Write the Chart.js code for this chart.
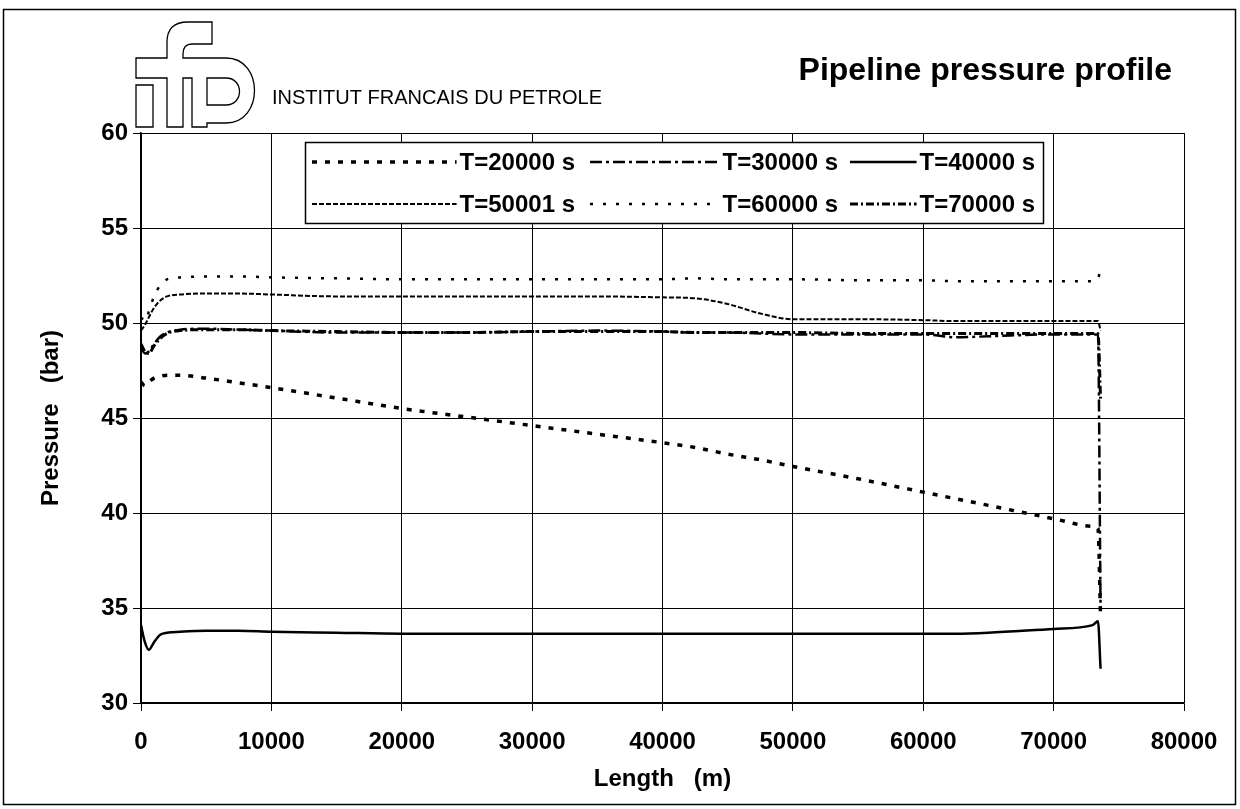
<!DOCTYPE html>
<html>
<head>
<meta charset="utf-8">
<script src="https://cdn.jsdelivr.net/npm/chart.js@4.4.0/dist/chart.umd.min.js"></script>
<style>
  html, body { margin: 0; padding: 0; background: #fff; }
</style>
</head>
<body>
<canvas id="grafico_pressao" width="1240" height="809"></canvas>
<script>
// distance along the pipeline (m)
var comprimentos = [0, 300, 600, 1000, 1500, 2000, 3000, 5000, 7500, 10000, 15000, 20000, 25000, 30000,
  35000, 40000, 42500, 45000, 47500, 50000, 55000, 60000, 62500, 65000, 70000, 73000, 73400, 73600];

// pressure (bar) for each time step
var p20000 = [46.9, 46.7, 46.9, 47.1, 47.2, 47.25, 47.25, 47.1, 46.85, 46.6, 46.05, 45.5, 45.05, 44.6,
  44.15, 43.7, 43.45, 43.1, 42.8, 42.45, 41.8, 41.1, 40.75, 40.4, 39.7, 39.3, 39.2, 34.5];
var p30000 = [48.7, 48.4, 48.5, 48.9, 49.3, 49.5, 49.65, 49.7, 49.65, 49.6, 49.5, 49.5, 49.5, 49.55,
  49.6, 49.55, 49.5, 49.5, 49.45, 49.4, 49.4, 49.4, 49.25, 49.3, 49.4, 49.4, 49.4, 35.0];
var p40000 = [34.1, 33.2, 32.8, 33.2, 33.6, 33.7, 33.75, 33.8, 33.8, 33.75, 33.7, 33.65, 33.65, 33.65,
  33.65, 33.65, 33.65, 33.65, 33.65, 33.65, 33.65, 33.65, 33.65, 33.7, 33.9, 34.1, 34.3, 31.8];
var p50001 = [49.6, 49.9, 50.3, 50.8, 51.2, 51.4, 51.5, 51.55, 51.55, 51.5, 51.4, 51.4, 51.4, 51.4,
  51.4, 51.35, 51.3, 51.0, 50.5, 50.2, 50.2, 50.15, 50.1, 50.1, 50.1, 50.1, 50.1, 49.6];
var p60000 = [50.3, 50.1, 50.6, 51.4, 52.0, 52.3, 52.4, 52.45, 52.45, 52.4, 52.35, 52.3, 52.3, 52.3,
  52.3, 52.3, 52.35, 52.3, 52.3, 52.3, 52.25, 52.25, 52.2, 52.2, 52.2, 52.2, 52.3, 53.0];
var p70000 = [48.9, 48.5, 48.4, 48.8, 49.2, 49.45, 49.6, 49.65, 49.65, 49.6, 49.55, 49.5, 49.5, 49.55,
  49.55, 49.55, 49.5, 49.5, 49.5, 49.5, 49.45, 49.45, 49.45, 49.45, 49.45, 49.45, 49.45, 46.0];

var rotulos = ["T=20000 s", "T=30000 s", "T=40000 s", "T=50001 s", "T=60000 s", "T=70000 s"];
var xTicks = [0, 10000, 20000, 30000, 40000, 50000, 60000, 70000, 80000];
var yTicks = [30, 35, 40, 45, 50, 55, 60];

var fonte = "'Liberation Sans', Arial, sans-serif";
Chart.defaults.font.family = fonte;
Chart.defaults.color = "#000";

var pontos = function(valores) {
  return comprimentos.map(function(c, i) { return { x: c, y: valores[i] }; });
};

var serie = function(label, valores, largura, tracejado) {
  return {
    label: label,
    data: pontos(valores),
    borderColor: "#000",
    borderWidth: largura,
    borderDash: tracejado,
    pointRadius: 0,
    fill: false,
    cubicInterpolationMode: "monotone"
  };
};

// logo, titles, outer frame
var decoracao = {
  id: "decoracao",
  beforeDraw: function(chart) {
    var ctx = chart.ctx;
    ctx.save();
    ctx.fillStyle = "#fff";
    ctx.fillRect(0, 0, chart.width, chart.height);
    ctx.restore();
  },
  afterDraw: function(chart) {
    var ctx = chart.ctx;
    ctx.save();
    ctx.strokeStyle = "#000";
    ctx.lineWidth = 1.5;
    ctx.strokeRect(3.5, 9.5, 1232, 795);

    // ifp logo outline
    ctx.lineWidth = 1.3;
    ctx.beginPath();
    ctx.rect(136, 85, 17, 42);
    ctx.moveTo(167, 127);
    ctx.lineTo(167, 78);
    ctx.lineTo(136, 78);
    ctx.lineTo(136, 58);
    ctx.lineTo(167, 58);
    ctx.lineTo(167, 42);
    ctx.quadraticCurveTo(167, 22, 188, 22);
    ctx.lineTo(212, 22);
    ctx.lineTo(212, 44);
    ctx.lineTo(192, 44);
    ctx.quadraticCurveTo(183, 44, 183, 54);
    ctx.lineTo(183, 58);
    ctx.lineTo(226, 58);
    ctx.bezierCurveTo(264, 58, 264, 123, 226, 123);
    ctx.lineTo(207, 123);
    ctx.lineTo(207, 127);
    ctx.lineTo(192, 127);
    ctx.lineTo(192, 78);
    ctx.lineTo(183, 78);
    ctx.lineTo(183, 127);
    ctx.closePath();
    ctx.moveTo(207, 78);
    ctx.lineTo(226, 78);
    ctx.bezierCurveTo(244, 78, 244, 105, 226, 105);
    ctx.lineTo(207, 105);
    ctx.closePath();
    ctx.stroke();

    ctx.fillStyle = "#000";
    ctx.textBaseline = "alphabetic";
    ctx.font = "20px " + fonte;
    ctx.textAlign = "left";
    ctx.fillText("INSTITUT FRANCAIS DU PETROLE", 272, 104);
    ctx.font = "bold 32px " + fonte;
    ctx.textAlign = "right";
    ctx.fillText("Pipeline pressure profile", 1172, 80);
    ctx.restore();
  }
};

// boxed legend, three columns, two rows
var legenda = {
  id: "legenda",
  afterDatasetsDraw: function(chart) {
    var ctx = chart.ctx;
    var inicio = [312, 590, 850];
    var direita = [575, 838, 1035];
    var linhas = [162, 204];
    ctx.save();
    ctx.fillStyle = "#fff";
    ctx.fillRect(305, 142, 738, 81);
    ctx.strokeStyle = "#000";
    ctx.lineWidth = 1.5;
    ctx.strokeRect(305.5, 142.5, 738, 81);
    ctx.font = "bold 24px " + fonte;
    ctx.textAlign = "right";
    ctx.textBaseline = "middle";
    chart.data.datasets.forEach(function(ds, i) {
      var c = i % 3, r = Math.floor(i / 3);
      var y = linhas[r];
      var larg = ctx.measureText(ds.label).width;
      ctx.fillStyle = "#000";
      ctx.fillText(ds.label, direita[c], y + 1);
      ctx.beginPath();
      ctx.setLineDash(ds.borderDash || []);
      ctx.lineWidth = ds.borderWidth;
      ctx.moveTo(inicio[c], y);
      ctx.lineTo(direita[c] - larg - 3, y);
      ctx.stroke();
      ctx.setLineDash([]);
    });
    ctx.restore();
  }
};

new Chart(document.getElementById("grafico_pressao"), {
  type: "line",
  data: {
    datasets: [
      serie(rotulos[0], p20000, 3.5, [5, 8]),
      serie(rotulos[1], p30000, 2.5, [12, 4, 3, 4]),
      serie(rotulos[2], p40000, 2.5, []),
      serie(rotulos[3], p50001, 2, [5, 2]),
      serie(rotulos[4], p60000, 2.5, [3, 10]),
      serie(rotulos[5], p70000, 3, [8, 3, 2, 3])
    ]
  },
  plugins: [decoracao, legenda],
  options: {
    responsive: false,
    animation: false,
    layout: { padding: { left: 0, top: 133, right: 56, bottom: 0 } },
    plugins: {
      legend: { display: false },
      title: { display: false },
      tooltip: { enabled: false }
    },
    scales: {
      x: {
        type: "linear",
        min: 0,
        max: 80000,
        afterFit: function(s) { s.height = 106; },
        afterBuildTicks: function(s) { s.ticks = xTicks.map(function(v) { return { value: v }; }); },
        ticks: { font: { size: 24, weight: "bold" }, padding: 17, maxRotation: 0, color: "#000",
          callback: function(v) { return String(v); } },
        grid: { color: "#000", lineWidth: 1, tickLength: 8 },
        border: { color: "#000", width: 1.5 },
        title: { display: true, text: "Length   (m)", font: { size: 24, weight: "bold" },
          color: "#000", padding: { top: 0, bottom: 15 } }
      },
      y: {
        min: 30,
        max: 60,
        afterFit: function(s) { s.width = 141; },
        afterBuildTicks: function(s) { s.ticks = yTicks.map(function(v) { return { value: v }; }); },
        ticks: { font: { size: 24, weight: "bold" }, padding: 5, color: "#000" },
        grid: { color: "#000", lineWidth: 1, tickLength: 8 },
        border: { color: "#000", width: 1.5 },
        title: { display: true, text: "Pressure   (bar)", font: { size: 24, weight: "bold" },
          color: "#000", padding: { top: 37, bottom: 0 } }
      }
    }
  }
});
</script>
</body>
</html>
